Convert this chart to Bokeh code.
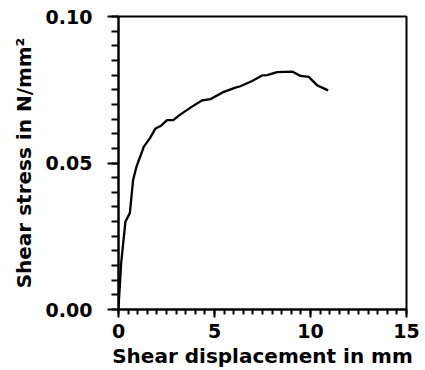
from bokeh.plotting import figure
from bokeh.models import Range1d, FixedTicker, PrintfTickFormatter
from bokeh.embed import file_html
from bokeh.resources import INLINE

displacement_mm = [0.0, 0.14, 0.36, 0.59, 0.76, 0.94, 1.32, 1.63, 1.93, 2.19, 2.53, 2.85,
                   3.23, 3.75, 4.36, 4.79, 5.49, 6.09, 6.35, 6.96, 7.48, 7.74, 8.26,
                   9.05, 9.48, 9.91, 10.35, 10.92]
shear_stress = [0.0006, 0.0159, 0.0300, 0.0329, 0.0442, 0.0488, 0.0556, 0.0584, 0.0618,
                0.0626, 0.0646, 0.0646, 0.0666, 0.0689, 0.0714, 0.0718, 0.0743, 0.0757,
                0.0762, 0.0780, 0.0799, 0.0800, 0.0810, 0.0812, 0.0797, 0.0794,
                0.0765, 0.0748]
x_major = [0, 5, 10, 15]
x_minor = [i * 0.5 for i in range(31)]
y_major = [0.0, 0.05, 0.10]
y_minor = [i * 0.005 for i in range(21)]

FONT = "DejaVu Sans"

p = figure(width=425, height=370, output_backend="svg", toolbar_location=None,
           x_range=Range1d(0, 15), y_range=Range1d(0, 0.10),
           min_border_left=118, min_border_right=19, min_border_top=16, min_border_bottom=60)
p.background_fill_color = "white"
p.border_fill_color = "white"
p.outline_line_color = "black"
p.outline_line_width = 2
p.xgrid.visible = False
p.ygrid.visible = False

p.line(displacement_mm, shear_stress, line_color="black", line_width=2.3)

p.xaxis.ticker = FixedTicker(ticks=x_major, minor_ticks=x_minor)
p.yaxis.ticker = FixedTicker(ticks=y_major, minor_ticks=y_minor)
p.yaxis.formatter = PrintfTickFormatter(format="%.2f")

for ax in (p.xaxis[0], p.yaxis[0]):
    ax.axis_line_width = 2
    ax.axis_line_color = "black"
    ax.major_tick_line_width = 2
    ax.minor_tick_line_width = 2
    ax.major_tick_in = 0
    ax.minor_tick_in = 0
    ax.major_label_text_font = FONT
    ax.major_label_text_font_size = "19px"
    ax.major_label_text_font_style = "bold"
    ax.major_label_text_color = "black"
    ax.axis_label_text_font = FONT
    ax.axis_label_text_font_size = "20px"
    ax.axis_label_text_font_style = "bold"
    ax.axis_label_text_color = "black"

p.xaxis.major_tick_out = 8
p.xaxis.minor_tick_out = 5
p.yaxis.major_tick_out = 11
p.yaxis.minor_tick_out = 7
p.xaxis.major_label_standoff = 6
p.yaxis.major_label_standoff = 15
p.xaxis.axis_label = "Shear displacement in mm"
p.yaxis.axis_label = "Shear stress in N/mm²"
p.xaxis.axis_label_standoff = 3
p.yaxis.axis_label_standoff = 7

open("out.html", "w").write(file_html(p, INLINE))
